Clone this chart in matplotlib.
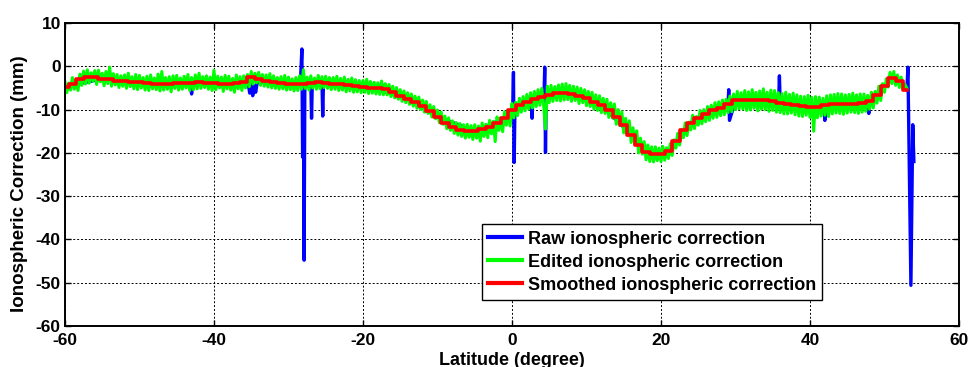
import numpy as np
import matplotlib
matplotlib.use('Agg')
import matplotlib.pyplot as plt

plt.rcParams['font.family'] = ['Liberation Sans', 'DejaVu Sans']
plt.rcParams['font.weight'] = 'bold'
plt.rcParams['axes.unicode_minus'] = False

# raw ionospheric correction (mm), mostly hidden below the edited series
raw_lat = [-60, -55, -50, -45, -43.2, -43, -42.8, -40, -36, -35.4,
           -35.2, -35.0, -34.8, -34.6, -34.4, -34.2, -33, -30, -28.4, -28.2,
           -28.1, -28.0, -27.9, -27.8, -27.0, -26.9, -26.8, -25.5, -25.4, -25.3,
           -20, -15, -10, -5, -1, 0.1, 0.2, 0.3, 0.4, 1,
           2, 2.6, 2.7, 2.8, 3.5, 4.3, 4.4, 4.5, 4.6, 5,
           8, 12, 16, 19, 21, 24, 27, 28.9, 29.0, 29.1,
           29.2, 30, 33, 35.8, 35.9, 36.0, 38, 40, 41.9, 42.0,
           42.1, 44, 47.8, 47.9, 48.0, 50, 51, 52, 53.0, 53.15,
           53.55, 53.8, 53.95]
raw_val = [-4.7, -2.9, -3.7, -3.9, -3.8, -6.4, -3.8, -3.9, -3.6, -4.0,
           -6.2, -3.5, -6.8, -4.5, -6.0, -3.8, -3.5, -4.0, -4.0, 4.0,
           -21.0, -4.5, -44.8, -4.0, -3.8, -12.0, -3.7, -3.9, -11.5, -3.8,
           -4.7, -6.8, -11.6, -15.0, -12.0, -9.8, -1.4, -22.2, -9.0, -9.0,
           -8.2, -7.9, -12.0, -7.8, -7.3, -7.0, -0.2, -19.9, -7.0, -6.6,
           -6.3, -9.0, -15.8, -20.2, -19.6, -13.0, -10.2, -8.9, -8.8, -5.4,
           -12.5, -7.9, -7.9, -8.0, -2.2, -8.3, -8.9, -9.4, -9.3, -12.5,
           -9.2, -8.6, -8.4, -10.9, -8.2, -4.6, -2.7, -3.5, -5.6, -0.2,
           -50.6, -13.5, -22.0]

# edited correction, every 0.25 degree from -60 to 53 (one row = 5 degrees)
edit_lat = np.arange(-60, 53.001, 0.25)
edit_val = [
    -3.6, -6.1, -3.9, -5.5, -2.6, -5.3, -3.1, -5.6, -1.8, -4.4, -1.1, -4.1, -0.8, -3.9, -1.5, -3.4, -1.0, -4.2, -0.9, -3.6,
    -1.6, -4.5, -1.2, -4.0, -0.2, -4.6, -1.7, -4.3, -1.9, -4.9, -2.2, -4.6, -2.0, -5.1, -1.6, -4.7, -2.4, -5.2, -1.9, -5.4,
    -2.1, -5.0, -2.6, -5.5, -2.3, -5.6, -2.0, -5.2, -2.7, -5.4, -1.8, -5.7, -1.2, -5.5, -2.6, -5.3, -2.4, -5.9, -2.2, -5.1,
    -2.1, -5.5, -2.7, -5.3, -2.3, -5.0, -1.9, -5.6, -2.6, -5.4, -2.0, -5.2, -1.6, -5.1, -2.4, -4.9, -2.2, -5.3, -2.5, -5.6,
    -0.9, -5.4, -2.3, -5.0, -2.5, -5.8, -2.1, -5.2, -2.3, -5.5, -2.8, -6.0, -2.0, -5.2, -2.4, -5.6, -2.2, -5.0, -1.9, -4.7,
    -1.2, -4.1, -1.6, -3.8, -1.4, -4.4, -1.9, -4.6, -2.0, -4.8, -1.7, -5.0, -2.2, -5.1, -2.6, -5.3, -2.4, -5.2, -2.1, -5.5,
    -2.5, -5.4, -2.9, -5.7, -2.6, -5.6, -2.2, -5.3, -0.8, -5.1, -2.5, -5.5, -2.2, -5.0, -2.7, -5.3, -2.1, -5.2, -2.4, -4.9,
    -2.3, -5.1, -2.6, -5.4, -2.6, -5.3, -2.3, -5.6, -2.8, -5.5, -2.5, -5.9, -3.0, -5.7, -2.7, -6.0, -3.1, -5.9, -3.3, -6.1,
    -3.3, -6.0, -3.0, -6.3, -3.5, -6.2, -3.7, -6.4, -3.8, -6.5, -3.4, -6.6, -4.0, -6.6, -4.2, -7.0, -4.6, -7.3, -4.9, -7.6,
    -5.4, -8.1, -5.7, -8.4, -6.1, -8.8, -6.4, -9.2, -6.9, -9.7, -7.1, -10.0, -7.8, -10.6, -8.1, -10.9, -8.9, -11.7, -9.3, -12.1,
    -10.1, -13.0, -10.6, -13.4, -11.5, -14.4, -11.9, -14.8, -12.6, -15.5, -13.0, -15.9, -13.2, -16.2, -13.5, -16.6, -13.4, -16.4, -13.7, -16.9,
    -13.5, -16.6, -13.8, -17.3, -13.1, -16.2, -13.4, -16.5, -12.5, -15.6, -12.7, -17.4, -11.7, -14.8, -11.9, -15.1, -10.5, -13.6, -10.2, -13.8,
    -8.6, -11.9, -8.3, -11.4, -7.4, -10.6, -7.0, -10.3, -6.5, -9.9, -6.1, -9.6, -5.8, -9.3, -5.4, -9.0, -5.1, -8.8, -14.5, -4.6,
    -8.4, -4.4, -8.1, -4.7, -7.9, -4.3, -8.0, -4.1, -7.8, -4.0, -7.7, -4.4, -8.1, -4.6, -7.9, -4.8, -8.6, -5.1, -8.4, -5.4,
    -9.1, -5.8, -9.3, -6.0, -9.9, -6.6, -10.2, -6.8, -10.7, -7.4, -10.9, -7.6, -11.8, -8.4, -12.0, -8.7, -13.4, -10.0, -13.7, -10.5,
    -15.4, -12.0, -15.9, -12.6, -17.6, -14.2, -18.0, -14.9, -20.0, -16.6, -20.3, -17.4, -21.6, -18.2, -22.0, -18.6, -22.1, -18.6, -21.8, -18.9,
    -22.0, -18.5, -21.7, -18.8, -21.3, -17.9, -20.6, -17.0, -18.9, -15.5, -18.2, -14.7, -16.5, -13.1, -16.0, -12.9, -14.7, -11.3, -14.4, -11.6,
    -13.6, -10.2, -13.3, -10.0, -12.8, -9.3, -12.5, -9.0, -12.0, -8.4, -11.8, -8.2, -11.4, -7.8, -11.2, -7.6, -10.7, -6.9, -10.5, -6.4,
    -10.0, -5.8, -9.8, -6.1, -9.9, -5.6, -10.2, -5.9, -10.1, -5.4, -9.7, -6.0, -10.3, -5.7, -9.9, -5.2, -10.0, -6.0, -10.4, -5.5,
    -10.2, -5.6, -10.6, -6.1, -10.7, -6.3, -11.0, -6.0, -11.0, -6.5, -10.8, -6.2, -11.2, -6.6, -11.5, -6.9, -11.6, -7.0, -11.3, -6.7,
    -11.8, -7.2, -15.0, -7.0, -11.9, -7.1, -11.5, -7.4, -11.3, -6.8, -11.6, -6.6, -11.0, -6.5, -10.8, -6.3, -10.9, -6.4, -11.1, -6.6,
    -10.8, -6.5, -10.6, -6.2, -10.7, -6.6, -10.9, -6.4, -10.6, -6.4, -10.4, -6.7, -9.9, -6.0, -9.6, -5.8, -8.5, -4.6, -7.9, -4.0,
    -6.0, -2.9, -4.8, -1.4, -4.0, -1.2, -4.4, -2.0, -4.9, -2.5, -5.3, -4.2, -5.0]

# smoothed correction, one value per degree from -60 to 53
smooth_lat = np.arange(-60, 54)
smooth_val = [-4.7, -4.0, -3.0, -2.4, -2.5, -2.9, -3.0, -3.3, -3.5, -3.6,
              -3.7, -3.9, -4.0, -4.0, -4.0, -3.9, -3.8, -3.8, -3.7, -3.8,
              -3.9, -4.0, -4.0, -3.9, -3.6, -2.4, -3.0, -3.4, -3.7, -3.9,
              -4.0, -4.1, -4.0, -3.8, -3.7, -3.8, -4.0, -4.2, -4.4, -4.5,
              -4.7, -4.9, -5.1, -5.3, -6.0, -6.8, -7.5, -8.3, -9.2, -10.3,
              -11.6, -13.0, -14.1, -14.7, -14.9, -15.0, -14.6, -14.0, -13.2, -12.0,
              -10.2, -9.0, -8.2, -7.6, -7.0, -6.6, -6.2, -6.1, -6.3, -6.8,
              -7.4, -8.2, -9.0, -10.0, -11.6, -13.6, -15.8, -18.2, -19.8, -20.2,
              -20.2, -19.6, -17.2, -14.8, -13.0, -11.9, -11.0, -10.2, -9.6, -8.8,
              -7.9, -7.8, -7.9, -7.9, -7.9, -8.0, -8.5, -8.7, -8.9, -9.2,
              -9.4, -9.4, -9.0, -8.7, -8.6, -8.6, -8.6, -8.5, -8.0, -6.6,
              -4.6, -2.7, -3.5, -5.5]

fig = plt.figure(figsize=(9.71, 3.67), dpi=100)
ax = fig.add_axes([0.0669, 0.1117, 0.9207, 0.8256])

ax.plot(raw_lat, raw_val, color=(0, 0, 1), linewidth=2.4,
        label='Raw ionospheric correction')
ax.plot(edit_lat, edit_val, color=(0, 1, 0), linewidth=2.2,
        label='Edited ionospheric correction')
ax.plot(smooth_lat, smooth_val, color=(1, 0, 0), linewidth=2.6,
        drawstyle='steps-mid', label='Smoothed ionospheric correction')

ax.set_xlim([-60, 60])
ax.set_ylim([-60, 10])
ax.set_xticks(np.arange(-60, 61, 20))
ax.set_yticks(np.arange(-60, 11, 10))
ax.grid(True, color='k', linestyle=(0, (2, 2)), linewidth=0.7)
ax.tick_params(direction='in', length=4, width=1, top=True, right=True,
               labelsize=12.5)
ax.tick_params(axis='x', pad=5)
ax.tick_params(axis='y', pad=3)
for sp in ax.spines.values():
    sp.set_linewidth(1.4)

ax.set_xlabel('Latitude (degree)', fontsize=13, fontweight='bold')
ax.set_ylabel('Ionospheric Correction (mm)', fontsize=13.5, fontweight='bold')
ax.xaxis.set_label_coords(0.5, -0.085)
ax.yaxis.set_label_coords(-0.041, 0.47)

leg = ax.legend(loc='lower left', bbox_to_anchor=(0.466, 0.0858),
                borderaxespad=0, fancybox=False, framealpha=1,
                edgecolor='k', fontsize=13, handlelength=1.9,
                handletextpad=0.3, labelspacing=0.33, borderpad=0.35)
leg.get_frame().set_linewidth(1.0)
for line in leg.get_lines():
    line.set_linewidth(3)

fig.savefig('out.png', dpi=100)
